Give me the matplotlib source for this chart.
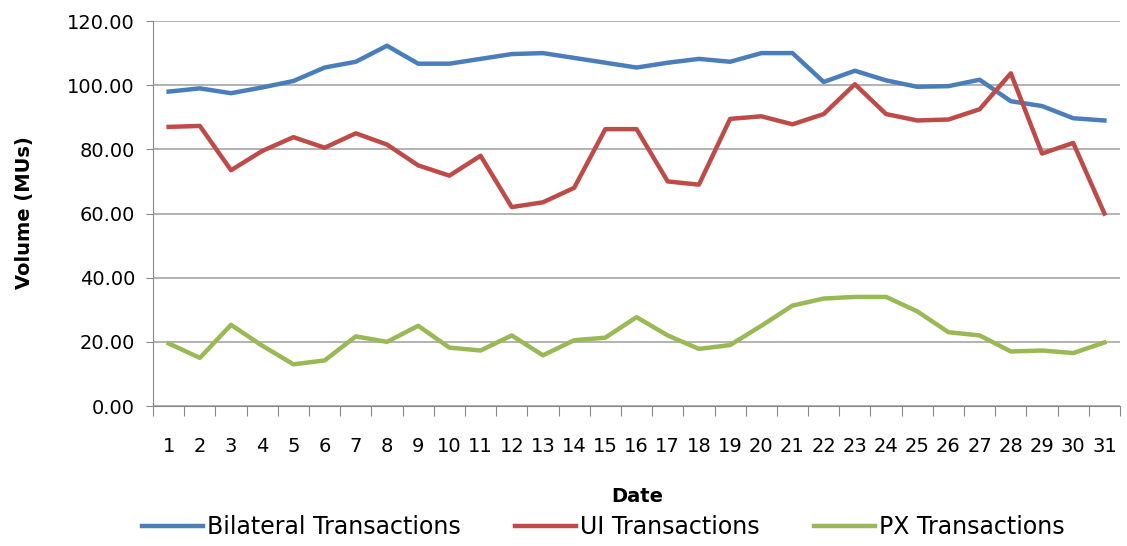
import numpy as np
import matplotlib.pyplot as plt

plt.rcParams['font.family'] = ['Liberation Sans Narrow', 'DejaVu Sans']

days = list(range(1, 32))
bilateral = [98.0, 99.0, 97.5, 99.3, 101.3, 105.5, 107.3, 112.3, 106.7, 106.7,
             108.2, 109.7, 110.0, 108.5, 107.0, 105.5, 107.0, 108.2, 107.3, 110.0,
             110.0, 101.0, 104.5, 101.5, 99.5, 99.7, 101.7, 95.0, 93.5, 89.7, 89.0]
ui = [87.0, 87.3, 73.5, 79.5, 83.8, 80.5, 85.0, 81.5, 75.0, 71.8,
      78.0, 62.0, 63.5, 68.0, 86.3, 86.3, 70.0, 69.0, 89.5, 90.3,
      87.8, 91.0, 100.3, 91.0, 89.0, 89.3, 92.5, 103.7, 78.7, 82.0, 60.0]
px = [19.5, 15.0, 25.3, 18.8, 13.0, 14.2, 21.7, 20.0, 25.0, 18.2,
      17.3, 22.0, 15.8, 20.5, 21.3, 27.7, 22.0, 17.8, 19.0, 25.0,
      31.3, 33.5, 34.0, 34.0, 29.5, 23.0, 22.0, 17.0, 17.3, 16.5, 19.8]
series_names = ['Bilateral Transactions', 'UI Transactions', 'PX Transactions']

fig = plt.figure(figsize=(11.27, 5.46), dpi=100)
ax = fig.add_axes([0.1358, 0.2564, 0.858, 0.7051])

ax.plot(days, bilateral, '-', color='#4a7ebb', lw=3.2, label=series_names[0])
ax.plot(days, ui, '-', color='#be4b48', lw=3.2, label=series_names[1])
ax.plot(days, px, '-', color='#98b954', lw=3.2, label=series_names[2])

ax.set_xlim(0.5, 31.5)
ax.set_ylim(0, 120)
ax.set_yticks(np.arange(0, 121, 20))
ax.set_yticklabels(['%.2f' % v for v in np.arange(0, 121, 20)], fontsize=14)
ax.set_xticks(np.arange(0.5, 32, 1))
ax.set_xticklabels([])
ax.set_xticks(days, minor=True)
ax.set_xticklabels([str(d) for d in days], minor=True, fontsize=14)
ax.tick_params(axis='x', which='major', length=7, color='#888888', direction='out')
ax.tick_params(axis='x', which='minor', length=0, pad=22)
ax.tick_params(axis='y', length=5, color='#888888', pad=8)

ax.grid(axis='y', color='#a6a6a6', lw=1.2)
ax.set_axisbelow(True)
for s in ['top', 'right']:
    ax.spines[s].set_visible(False)
ax.spines['left'].set_color('#888888')
ax.spines['bottom'].set_color('#888888')

fig.text(0.565, 0.09, 'Date', ha='center', va='center', fontsize=14, fontweight='bold')
fig.text(0.022, 0.61, 'Volume (MUs)', ha='center', va='center', rotation=90,
         fontsize=14, fontweight='bold')

fig.legend(loc='center', bbox_to_anchor=(0.535, 0.035), ncol=3, frameon=False,
           fontsize=17, handlelength=2.6, handletextpad=0.15, columnspacing=2.3)

plt.savefig('out.png')
